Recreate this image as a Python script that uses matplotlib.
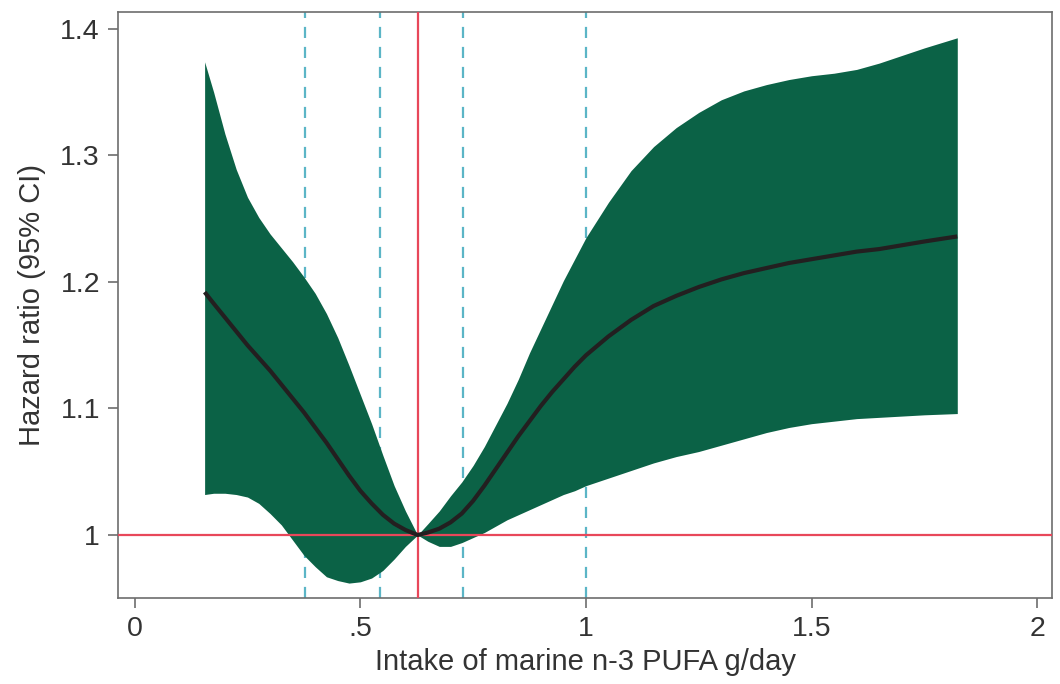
import numpy as np
import matplotlib.pyplot as plt

plt.rcParams['font.family'] = ['Liberation Sans', 'DejaVu Sans']

# intake of marine n-3 PUFA (g/day)
intake = [0.155, 0.175, 0.200, 0.225, 0.250, 0.275, 0.300, 0.325, 0.350, 0.375,
          0.400, 0.425, 0.450, 0.475, 0.500, 0.525, 0.550, 0.575, 0.600, 0.627,
          0.650, 0.675, 0.700, 0.725, 0.750, 0.775, 0.800, 0.825, 0.850, 0.875,
          0.900, 0.925, 0.950, 0.975, 1.000, 1.050, 1.100, 1.150, 1.200, 1.250,
          1.300, 1.350, 1.400, 1.450, 1.500, 1.550, 1.600, 1.650, 1.700, 1.750,
          1.823]
# hazard ratio
hr = [1.192, 1.183, 1.172, 1.161, 1.150, 1.140, 1.130, 1.119, 1.108, 1.097,
      1.085, 1.073, 1.060, 1.047, 1.035, 1.025, 1.016, 1.009, 1.004, 1.000,
      1.002, 1.005, 1.010, 1.017, 1.027, 1.039, 1.052, 1.065, 1.078, 1.090,
      1.102, 1.113, 1.123, 1.133, 1.142, 1.157, 1.170, 1.181, 1.189, 1.196,
      1.202, 1.207, 1.211, 1.215, 1.218, 1.221, 1.224, 1.226, 1.229, 1.232,
      1.236]
# 95% CI bounds
ci_upper = [1.374, 1.350, 1.317, 1.289, 1.267, 1.251, 1.238, 1.227, 1.216, 1.204,
            1.191, 1.175, 1.156, 1.134, 1.111, 1.088, 1.063, 1.039, 1.019, 1.000,
            1.009, 1.019, 1.031, 1.042, 1.055, 1.070, 1.087, 1.104, 1.123, 1.144,
            1.163, 1.182, 1.201, 1.218, 1.235, 1.263, 1.288, 1.307, 1.322, 1.334,
            1.344, 1.351, 1.356, 1.360, 1.363, 1.365, 1.368, 1.373, 1.379, 1.385,
            1.393]
ci_lower = [1.032, 1.033, 1.033, 1.032, 1.030, 1.025, 1.017, 1.008, 0.996, 0.984,
            0.975, 0.967, 0.964, 0.962, 0.963, 0.966, 0.972, 0.981, 0.991, 1.000,
            0.995, 0.991, 0.991, 0.994, 0.998, 1.002, 1.007, 1.012, 1.016, 1.020,
            1.024, 1.028, 1.032, 1.035, 1.039, 1.045, 1.051, 1.057, 1.062, 1.066,
            1.071, 1.076, 1.081, 1.085, 1.088, 1.090, 1.092, 1.093, 1.094, 1.095,
            1.096]

ref_intake = 0.627
cut_points = [0.377, 0.543, 0.727, 1.0]

x_ticks = [0, 0.5, 1, 1.5, 2]
x_ticklabels = ['0', '.5', '1', '1.5', '2']
y_ticks = [1, 1.1, 1.2, 1.3, 1.4]
y_ticklabels = ['1', '1.1', '1.2', '1.3', '1.4']

fig = plt.figure(figsize=(10.6, 6.84), dpi=100)
ax = fig.add_axes([0.1113, 0.1257, 0.8812, 0.8568])

ax.fill_between(intake, ci_lower, ci_upper, color='#0b6246', linewidth=0, zorder=2)
ax.plot(intake, hr, color='#231f20', linewidth=3, solid_capstyle='butt',
        solid_joinstyle='round', zorder=4)

ax.axhline(1, color='#e8475a', linewidth=1.6, zorder=3)
ax.axvline(ref_intake, color='#e8475a', linewidth=1.6, zorder=3)
for c in cut_points:
    ax.axvline(c, color='#5bb5c6', linewidth=1.6, linestyle=(0, (5, 4)), zorder=1)

ax.set_xlim(-0.037, 2.033)
ax.set_ylim(0.9502, 1.4134)
ax.set_xticks(x_ticks)
ax.set_xticklabels(x_ticklabels)
ax.set_yticks(y_ticks)
ax.set_yticklabels(y_ticklabels)

for s in ax.spines.values():
    s.set_color('#6d6d6d')
    s.set_linewidth(1.2)
ax.tick_params(length=7, width=1.2, color='#6d6d6d', labelsize=20.5,
               labelcolor='#333333', pad=6)

ax.set_xlabel('Intake of marine n-3 PUFA g/day', fontsize=21, color='#333333', labelpad=4)
ax.set_ylabel('Hazard ratio (95% CI)', fontsize=21, color='#333333', labelpad=10)

plt.savefig('out.png', dpi=100)
plt.close()
